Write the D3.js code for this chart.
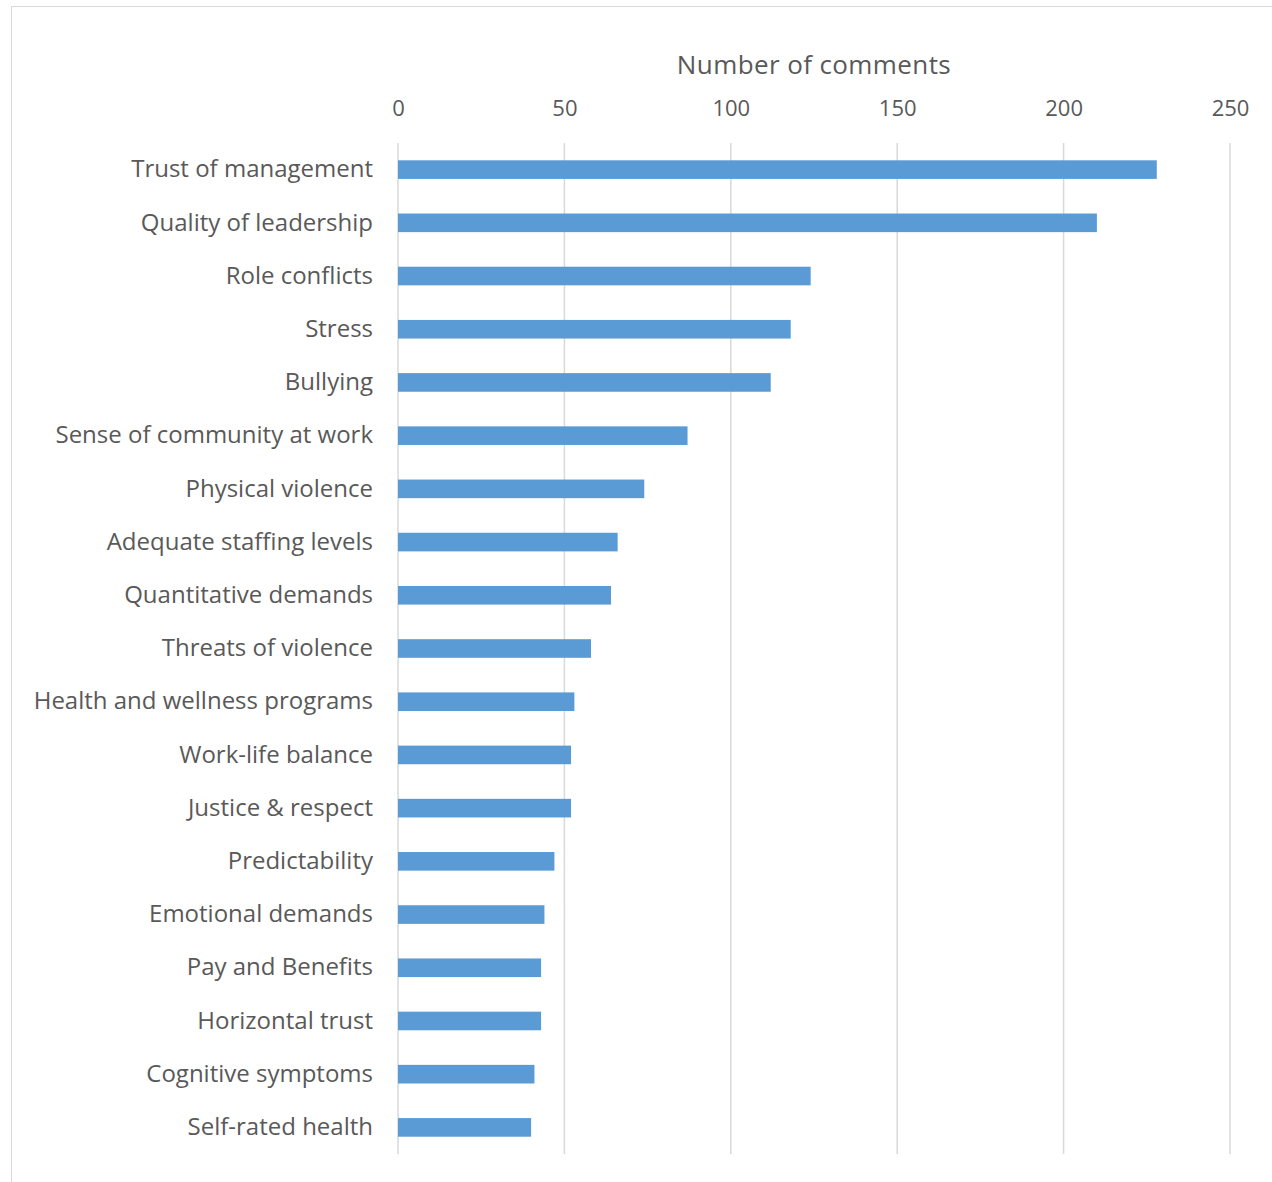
<!DOCTYPE html>
<html>
<head>
<meta charset="utf-8">
<script src="https://cdn.jsdelivr.net/npm/d3@7"></script>
<style>
  html, body { margin: 0; padding: 0; background: #fff; }
  svg { display: block; }
  text { font-family: "Open Sans", "Noto Sans", sans-serif; fill: #595959; }
</style>
</head>
<body>
<svg id="chart" width="1272" height="1182"></svg>
<script>
// Topics raised in free-text comments, most frequent first
const categories = [
  "Trust of management",
  "Quality of leadership",
  "Role conflicts",
  "Stress",
  "Bullying",
  "Sense of community at work",
  "Physical violence",
  "Adequate staffing levels",
  "Quantitative demands",
  "Threats of violence",
  "Health and wellness programs",
  "Work-life balance",
  "Justice & respect",
  "Predictability",
  "Emotional demands",
  "Pay and Benefits",
  "Horizontal trust",
  "Cognitive symptoms",
  "Self-rated health"
];
const commentCounts = [228, 210, 124, 118, 112, 87, 74, 66, 64, 58, 53, 52, 52, 47, 44, 43, 43, 41, 40];
const tickValues = [0, 50, 100, 150, 200, 250];
const axisTitle = "Number of comments";

const svg = d3.select("#chart");

// outer chart frame
svg.append("rect")
  .attr("x", 11.5).attr("y", 6.5)
  .attr("width", 1275).attr("height", 1190)
  .attr("fill", "none")
  .attr("stroke", "#d9d9d9")
  .attr("stroke-width", 1);

const plot = { left: 398, right: 1230, top: 143, bottom: 1154 };

const x = d3.scaleLinear().domain([0, 250]).range([plot.left, plot.right]);
const y = d3.scaleBand()
  .domain(categories)
  .range([plot.top, plot.bottom])
  .paddingInner(0.65)
  .paddingOuter(0.325);

// vertical gridlines
svg.append("g")
  .selectAll("line")
  .data(tickValues)
  .join("line")
  .attr("x1", d => x(d)).attr("x2", d => x(d))
  .attr("y1", plot.top).attr("y2", plot.bottom)
  .attr("stroke", "#d9d9d9")
  .attr("stroke-width", 1.5);

// top value axis
const xAxis = d3.axisTop(x).tickValues(tickValues).tickSize(0).tickPadding(0);
const gx = svg.append("g")
  .attr("transform", `translate(0,${116})`)
  .call(xAxis);
gx.select(".domain").remove();
gx.selectAll("text")
  .attr("dy", 0)
  .style("font-size", "22px")
  .style("fill", "#595959")
  .style("font-family", "'Open Sans', 'Noto Sans', sans-serif");

// axis title
svg.append("text")
  .attr("x", 814)
  .attr("y", 74)
  .attr("text-anchor", "middle")
  .style("font-size", "26px")
  .style("letter-spacing", "0.4px")
  .text(axisTitle);

// bars
svg.append("g")
  .selectAll("rect")
  .data(categories)
  .join("rect")
  .attr("x", x(0))
  .attr("y", d => y(d))
  .attr("width", (d, i) => x(commentCounts[i]) - x(0))
  .attr("height", y.bandwidth())
  .attr("fill", "#5b9bd5");

// category labels
const yAxis = d3.axisLeft(y).tickSize(0).tickPadding(25);
const gy = svg.append("g")
  .attr("transform", `translate(${plot.left},0)`)
  .call(yAxis);
gy.select(".domain").remove();
gy.selectAll("text")
  .style("font-size", "24px")
  .style("fill", "#595959")
  .style("font-family", "'Open Sans', 'Noto Sans', sans-serif");
</script>
</body>
</html>
